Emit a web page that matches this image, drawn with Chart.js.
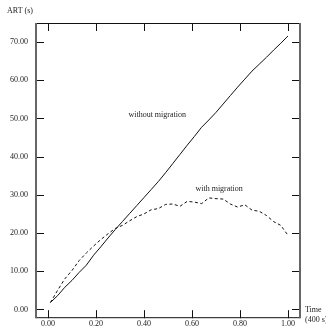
<!DOCTYPE html>
<html>
<head>
<meta charset="utf-8">
<script src="https://cdn.jsdelivr.net/npm/chart.js@4"></script>
<style>
  html, body { margin: 0; padding: 0; background: #fff; }
  #wrap { width: 326px; height: 331px; }
</style>
</head>
<body>
<div id="wrap"><canvas id="artChart"></canvas></div>
<script>
// Time (fraction of 400 s) and average response time in seconds
const timeSteps = [0.01, 0.04, 0.07, 0.10, 0.13, 0.16, 0.19, 0.22, 0.25, 0.28, 0.31, 0.34,
  0.37, 0.40, 0.43, 0.46, 0.49, 0.52, 0.55, 0.58, 0.61, 0.64, 0.67, 0.70, 0.73, 0.76,
  0.79, 0.82, 0.85, 0.88, 0.91, 0.94, 0.97, 1.00];
const artWithout = [1.8, 3.6, 5.8, 7.6, 9.7, 11.6, 14.2, 16.4, 18.7, 20.9, 23.0, 25.1,
  27.2, 29.3, 31.4, 33.5, 35.8, 38.2, 40.6, 43.0, 45.3, 47.7, 49.6, 51.6, 53.8, 56.0,
  58.2, 60.3, 62.4, 64.2, 66.0, 67.9, 69.7, 71.6];
const artWith = [1.8, 5.0, 8.0, 10.2, 12.8, 14.8, 16.6, 18.3, 19.8, 21.2, 22.0, 23.2,
  24.3, 25.0, 26.1, 26.4, 27.5, 27.6, 27.0, 28.3, 28.1, 27.7, 29.2, 29.0, 28.9, 27.6,
  26.8, 27.4, 26.0, 25.7, 24.6, 23.0, 22.0, 19.4];
const xTicks = [0, 0.2, 0.4, 0.6, 0.8, 1.0];
const yTicks = [0, 10, 20, 30, 40, 50, 60, 70];

const FONT = "'Liberation Serif', 'Times New Roman', serif";
const INK = "#222";

function toPoints(values) {
  return values.map((v, i) => ({ x: timeSteps[i], y: v }));
}

// frame, inward tick marks on all four sides, and the text annotations
const framePlugin = {
  id: "frame",
  afterDatasetsDraw(chart) {
    const { ctx, chartArea: a, scales } = chart;
    const tickLen = 8;
    ctx.save();
    ctx.strokeStyle = "#111";
    ctx.lineWidth = 1;
    ctx.beginPath();
    yTicks.forEach((v) => {
      const y = Math.round(scales.y.getPixelForValue(v)) + 0.5;
      ctx.moveTo(a.left, y); ctx.lineTo(a.left + tickLen, y);
      ctx.moveTo(a.right, y); ctx.lineTo(a.right - tickLen, y);
    });
    xTicks.forEach((v) => {
      const x = Math.round(scales.x.getPixelForValue(v)) + 0.5;
      ctx.moveTo(x, a.bottom); ctx.lineTo(x, a.bottom - tickLen);
      ctx.moveTo(x, a.top); ctx.lineTo(x, a.top + tickLen);
    });
    ctx.moveTo(a.left, a.top + 0.5); ctx.lineTo(a.right, a.top + 0.5);
    ctx.moveTo(a.left, a.bottom - 0.5); ctx.lineTo(a.right, a.bottom - 0.5);
    ctx.stroke();

    // side axes are heavier and grey
    ctx.strokeStyle = "#666";
    ctx.lineWidth = 2;
    ctx.beginPath();
    ctx.moveTo(a.left, a.top); ctx.lineTo(a.left, a.bottom);
    ctx.moveTo(a.right, a.top); ctx.lineTo(a.right, a.bottom);
    ctx.stroke();

    ctx.fillStyle = INK;
    ctx.font = "8px " + FONT;
    ctx.textBaseline = "middle";
    ctx.textAlign = "left";
    ctx.fillText("ART (s)", 7, 11);
    ctx.fillText("Time", a.right + 5, 310);
    ctx.fillText("(400 s)", a.right + 5, 320);

    ctx.textAlign = "center";
    ctx.fillText("without migration", scales.x.getPixelForValue(0.455), scales.y.getPixelForValue(51));
    ctx.fillText("with migration", scales.x.getPixelForValue(0.713), scales.y.getPixelForValue(31.6));
    ctx.restore();
  },
};

new Chart(document.getElementById("artChart"), {
  type: "line",
  data: {
    datasets: [
      {
        label: "without migration",
        data: toPoints(artWithout),
        borderColor: "#111",
        borderWidth: 1,
        pointRadius: 0,
        tension: 0,
        fill: false,
      },
      {
        label: "with migration",
        data: toPoints(artWith),
        borderColor: "#111",
        borderWidth: 1,
        borderDash: [3, 2.5],
        pointRadius: 0,
        tension: 0,
        fill: false,
      },
    ],
  },
  options: {
    responsive: true,
    maintainAspectRatio: false,
    animation: false,
    layout: { padding: { top: 23, right: 26, left: 0, bottom: 0 } },
    plugins: {
      legend: { display: false },
      tooltip: { enabled: false },
    },
    scales: {
      x: {
        type: "linear",
        min: -0.05,
        max: 1.05,
        grid: { display: false, drawTicks: false },
        border: { display: false },
        afterFit: (scale) => { scale.height = 8; },
        afterBuildTicks: (scale) => { scale.ticks = xTicks.map((v) => ({ value: v })); },
        ticks: {
          padding: 1,
          maxRotation: 0,
          autoSkip: false,
          color: INK,
          font: { family: FONT, size: 8 },
          callback: (v) => Number(v).toFixed(2),
        },
      },
      y: {
        min: -2.3,
        max: 75,
        grid: { display: false, drawTicks: false },
        border: { display: false },
        afterFit: (scale) => { scale.width = 36; },
        afterBuildTicks: (scale) => { scale.ticks = yTicks.map((v) => ({ value: v })); },
        ticks: {
          padding: 8,
          autoSkip: false,
          color: INK,
          font: { family: FONT, size: 8 },
          callback: (v) => Number(v).toFixed(2),
        },
      },
    },
  },
  plugins: [framePlugin],
});
</script>
</body>
</html>
